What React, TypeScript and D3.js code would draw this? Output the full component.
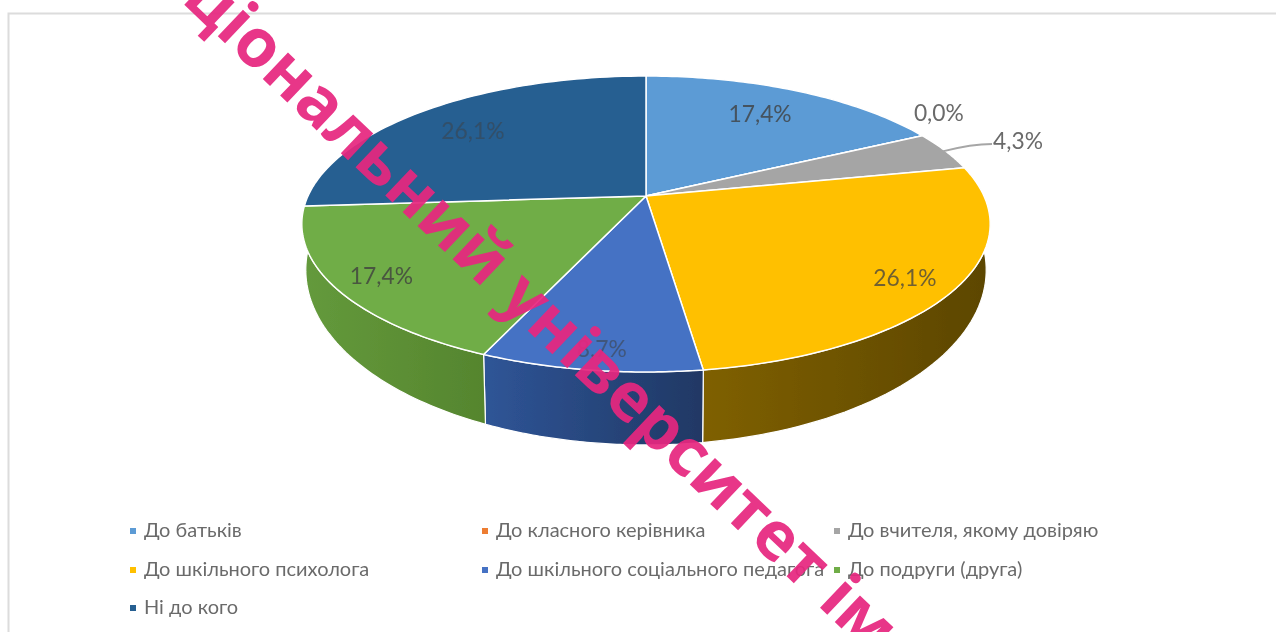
import React from "react";
import * as d3 from "d3";

const categories = [
  "До батьків",
  "До класного керівника",
  "До вчителя, якому довіряю",
  "До шкільного психолога",
  "До шкільного соціального педагога",
  "До подруги (друга)",
  "Ні до кого",
];
const shares = [17.4, 0, 4.3, 26.1, 8.7, 17.4, 26.1];
const shareLabels = ["17,4%", "0,0%", "4,3%", "26,1%", "8,7%", "17,4%", "26,1%"];
const colors = ["#5B9BD5", "#ED7D31", "#A5A5A5", "#FFC000", "#4472C4", "#70AD47", "#255E91"];
const sideLeft = ["#3f6d95", "#a5571f", "#737373", "#7f6000", "#2f5597", "#649a3c", "#1a4265"];
const sideRight = ["#3f6d95", "#a5571f", "#737373", "#5c4600", "#203864", "#55852e", "#1a4265"];

// where each slice label sits: radius on the pie, then a small nudge in px
const labelRadius = [0.754, 1.05, 1.2, 0.9, 0.9, 0.877, 0.731];
const labelNudge = [[-4, 0], [4, -20], [17, -2], [-17, 0], [5, 0], [3, 0], [-8, 0]];
const labelOpacity = [0.8, 1, 1, 0.75, 0.55, 0.8, 0.5];

const width = 1276;
const height = 632;
const cx = 646;
const cy = 196;
const a = 338;
const b = 142.7;
const k = -0.189;
const topEllipseCy = 224;
const lowEllipseCy = 270;
const lowScaleX = 340 / 344;
const lowScaleY = 175 / 148;

// tilted pie: the centre sits above the middle of the ellipse
const project = (angle: number, r = 1): [number, number] => {
  const x = Math.sin(angle) * r;
  const y = -Math.cos(angle) * r;
  const d = 1 + k * y;
  return [cx + (a * x) / d, cy + (b * y) / d];
};

const lower = ([x, y]: [number, number]): [number, number] => [
  cx + (x - cx) * lowScaleX,
  lowEllipseCy + (y - topEllipseCy) * lowScaleY,
];

const line = d3.line();
const steps = (s: number, e: number) => d3.range(0, 61).map((i) => s + ((e - s) * i) / 60);

const slices = d3.pie<number>().sort(null).value((d) => d)(shares);

const topPath = (s: d3.PieArcDatum<number>) =>
  line([[cx, cy], ...steps(s.startAngle, s.endAngle).map((t) => project(t))])! + "Z";

const sidePath = (s: d3.PieArcDatum<number>) => {
  const rim = steps(s.startAngle, s.endAngle).map((t) => project(t));
  return line([...rim, ...rim.map(lower).reverse()])! + "Z";
};

const legendX = d3.scaleOrdinal<number, number>().domain([0, 1, 2]).range([133, 485, 837]);
const legendY = d3.scaleOrdinal<number, number>().domain([0, 1, 2]).range([531, 570, 608]);

export default function App() {
  const visibleSides = [3, 4, 5];
  const leaderStart = project((slices[2].startAngle + slices[2].endAngle) / 2, 0.99);

  return (
    <svg
      width={width}
      height={height}
      style={{ position: "absolute", left: 0, top: 0, display: "block", background: "#fff" }}
    >
      <defs>
        <filter id="soft" x="-5%" y="-5%" width="110%" height="110%">
          <feGaussianBlur stdDeviation="0.7" />
        </filter>
        {visibleSides.map((i) => (
          <linearGradient key={i} id={`side${i}`} x1="0" y1="0" x2="1" y2="0">
            <stop offset="0%" stopColor={sideLeft[i]} />
            <stop offset="100%" stopColor={sideRight[i]} />
          </linearGradient>
        ))}
      </defs>

      <g filter="url(#soft)">
        <path d="M8.5,632V13.5H1276" fill="none" stroke="#dcdcdc" strokeWidth={2} />

        {visibleSides.map((i) => (
          <path key={i} d={sidePath(slices[i])} fill={`url(#side${i})`} stroke="#fff" strokeWidth={1.2} />
        ))}
        {slices.map((s, i) => (
          <path key={i} d={topPath(s)} fill={colors[i]} stroke="#fff" strokeWidth={1.5} strokeLinejoin="round" />
        ))}

        <path
          d={`M${leaderStart[0]},${leaderStart[1]}Q972,144 992,144`}
          fill="none"
          stroke="#a6a6a6"
          strokeWidth={1.8}
        />

        {slices.map((s, i) => {
          const [x, y] = project((s.startAngle + s.endAngle) / 2, labelRadius[i]);
          return (
            <text
              key={i}
              x={x + labelNudge[i][0]}
              y={y + labelNudge[i][1] + 8}
              textAnchor="middle"
              fontFamily="Lato, sans-serif"
              fontSize={22.8}
              fill={i === 1 || i === 2 ? "#6a6a6a" : "#404040"}
              fillOpacity={labelOpacity[i]}
            >
              {shareLabels[i]}
            </text>
          );
        })}

        {categories.map((name, i) => {
          const col = i % 3;
          const row = Math.floor(i / 3);
          return (
            <g key={name} transform={`translate(${legendX(col)},${legendY(row)})`}>
              <rect x={-3} y={-3} width={6} height={6} fill={colors[i]} />
              <text x={11} y={6} fontFamily="Lato, sans-serif" fontSize={20} fill="#6b6b6b">
                {name}
              </text>
            </g>
          );
        })}
      </g>

      <text
        transform="translate(114,-62) rotate(43.5)"
        fontFamily="'Open Sans', sans-serif"
        fontWeight={700}
        fontSize={67}
        fill="#e6277f"
        fillOpacity={0.93}
      >
        Національний університет імені
      </text>
    </svg>
  );
}
